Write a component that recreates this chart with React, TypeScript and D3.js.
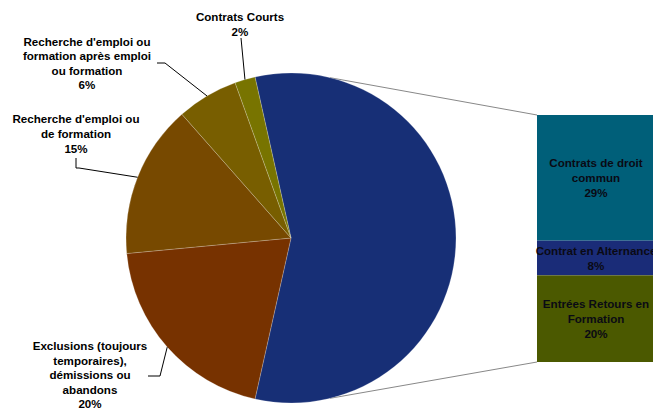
import React from "react";
import * as d3 from "d3";

const pieLabels = [
  "Autres",
  "Exclusions (toujours temporaires), démissions ou abandons",
  "Recherche d'emploi ou de formation",
  "Recherche d'emploi ou formation après emploi ou formation",
  "Contrats Courts",
];
const pieValues = [57, 20, 15, 6, 2];
const pieColors = ["#172F76", "#773200", "#774900", "#785E00", "#787400"];

const barLabels = ["Contrats de droit commun", "Contrat en Alternance", "Entrées Retours en Formation"];
const barValues = [29, 8, 20];
const barColors = ["#005F79", "#1A2C78", "#4B5900"];

// label line layouts (text lines) for pie slices
const pieLabelLines = [
  [],
  ["Exclusions (toujours", "temporaires),", "démissions ou", "abandons", "20%"],
  ["Recherche d'emploi ou", "de formation", "15%"],
  ["Recherche d'emploi ou", "formation après emploi", "ou formation", "6%"],
  ["Contrats Courts", "2%"],
];
const barLabelLines = [
  ["Contrats de droit", "commun", "29%"],
  ["Contrat en Alternance", "8%"],
  ["Entrées Retours en", "Formation", "20%"],
];

const W = 653;
const H = 410;
const cx = 291;
const cy = 238;
const R = 165;

export default function App() {
  const total = d3.sum(pieValues);
  const start = Math.PI / 2 - (Math.PI * pieValues[0]) / total;
  const pie = d3
    .pie<number>()
    .sort(null)
    .value((d) => d)
    .startAngle(start)
    .endAngle(start + Math.PI * 2);
  const arcs = pie(pieValues);
  const arc = d3.arc<d3.PieArcDatum<number>>().innerRadius(0).outerRadius(R);

  const barX = 537;
  const barW = 130;
  const barTotal = d3.sum(barValues);
  const y = d3.scaleLinear().domain([0, barTotal]).range([115, 362]);
  const cum = d3.cumsum(barValues);

  const polar = (a: number, r: number) => [cx + r * Math.sin(a), cy - r * Math.cos(a)];
  const mid = (i: number) => (arcs[i].startAngle + arcs[i].endAngle) / 2;
  const topA = (13.7 * Math.PI) / 180;
  const botA = Math.PI - topA;
  const pTop = polar(topA, R);
  const pBot = polar(botA, R);

  const font = "'Liberation Sans', Arial, sans-serif";
  const fs = 11.6;

  // label anchor (center x, first line y) and leader polyline per slice
  const labelPos: Record<number, { x: number; y: number; lh: number; leader: number[][] }> = {
    1: { x: 90, y: 350, lh: 14.6, leader: [[148, 376], [160, 376], polar(mid(1), R)] },
    2: { x: 76, y: 123, lh: 15.2, leader: [[76, 158], [76, 168], [79, 168], polar(mid(2), R)] },
    3: { x: 87, y: 46, lh: 14.4, leader: [[157, 63], [165, 63], polar(mid(3), R)] },
    4: { x: 240, y: 21, lh: 14.5, leader: [[241, 38], polar(mid(4), R)] },
  };

  return (
    <svg width={W} height={H} style={{ position: "absolute", left: 0, top: 0, background: "#fff" }}>
      <defs>
        <linearGradient id="blueGrad" gradientUnits="userSpaceOnUse" x1="0" y1={cy + R - 16} x2="0" y2={cy + R}>
          <stop offset="0" stopColor={pieColors[0]} />
          <stop offset="0.55" stopColor="#2A4CB0" />
          <stop offset="1" stopColor="#3F74EE" />
        </linearGradient>
        <clipPath id="barClip">
          <rect x={0} y={0} width={W} height={H} />
        </clipPath>
      </defs>

      {/* connector lines */}
      <line x1={pTop[0]} y1={pTop[1]} x2={barX} y2={y(0)} stroke="#888" strokeWidth={1} />
      <line x1={pBot[0]} y1={pBot[1]} x2={barX} y2={y(barTotal)} stroke="#888" strokeWidth={1} />

      <g transform={`translate(${cx},${cy})`}>
        {arcs.map((a, i) => (
          <path
            key={i}
            d={arc(a) || ""}
            fill={i === 0 ? "url(#blueGrad)" : pieColors[i]}
            stroke="rgba(255,255,255,0.35)"
            strokeWidth={0.6}
          />
        ))}
      </g>

      {/* leaders and labels */}
      {[1, 2, 3, 4].map((i) => {
        const p = labelPos[i];
        return (
          <g key={i}>
            <polyline points={p.leader.map((q) => q.join(",")).join(" ")} fill="none" stroke="#000" strokeWidth={1} />
            <text fontFamily={font} fontWeight="bold" fontSize={fs} textAnchor="middle" fill="#000">
              {pieLabelLines[i].map((t, k) => (
                <tspan key={k} x={p.x} y={p.y + k * p.lh}>
                  {t}
                </tspan>
              ))}
            </text>
          </g>
        );
      })}

      {/* bar of pie */}
      <g clipPath="url(#barClip)">
        {barValues.map((v, i) => {
          const y0 = y(i === 0 ? 0 : cum[i - 1]);
          const y1 = y(cum[i]);
          const lines = barLabelLines[i];
          const m = (y0 + y1) / 2;
          const lh = 15;
          const first = m - ((lines.length - 1) * lh) / 2 + 4;
          return (
            <g key={i}>
              <rect x={barX} y={y0} width={barW} height={y1 - y0} fill={barColors[i]} />
              <text fontFamily={font} fontWeight="bold" fontSize={fs} textAnchor="middle" fill="#0a0a14">
                {lines.map((t, k) => (
                  <tspan key={k} x={596} y={first + k * lh}>
                    {t}
                  </tspan>
                ))}
              </text>
            </g>
          );
        })}
      </g>
    </svg>
  );
}
